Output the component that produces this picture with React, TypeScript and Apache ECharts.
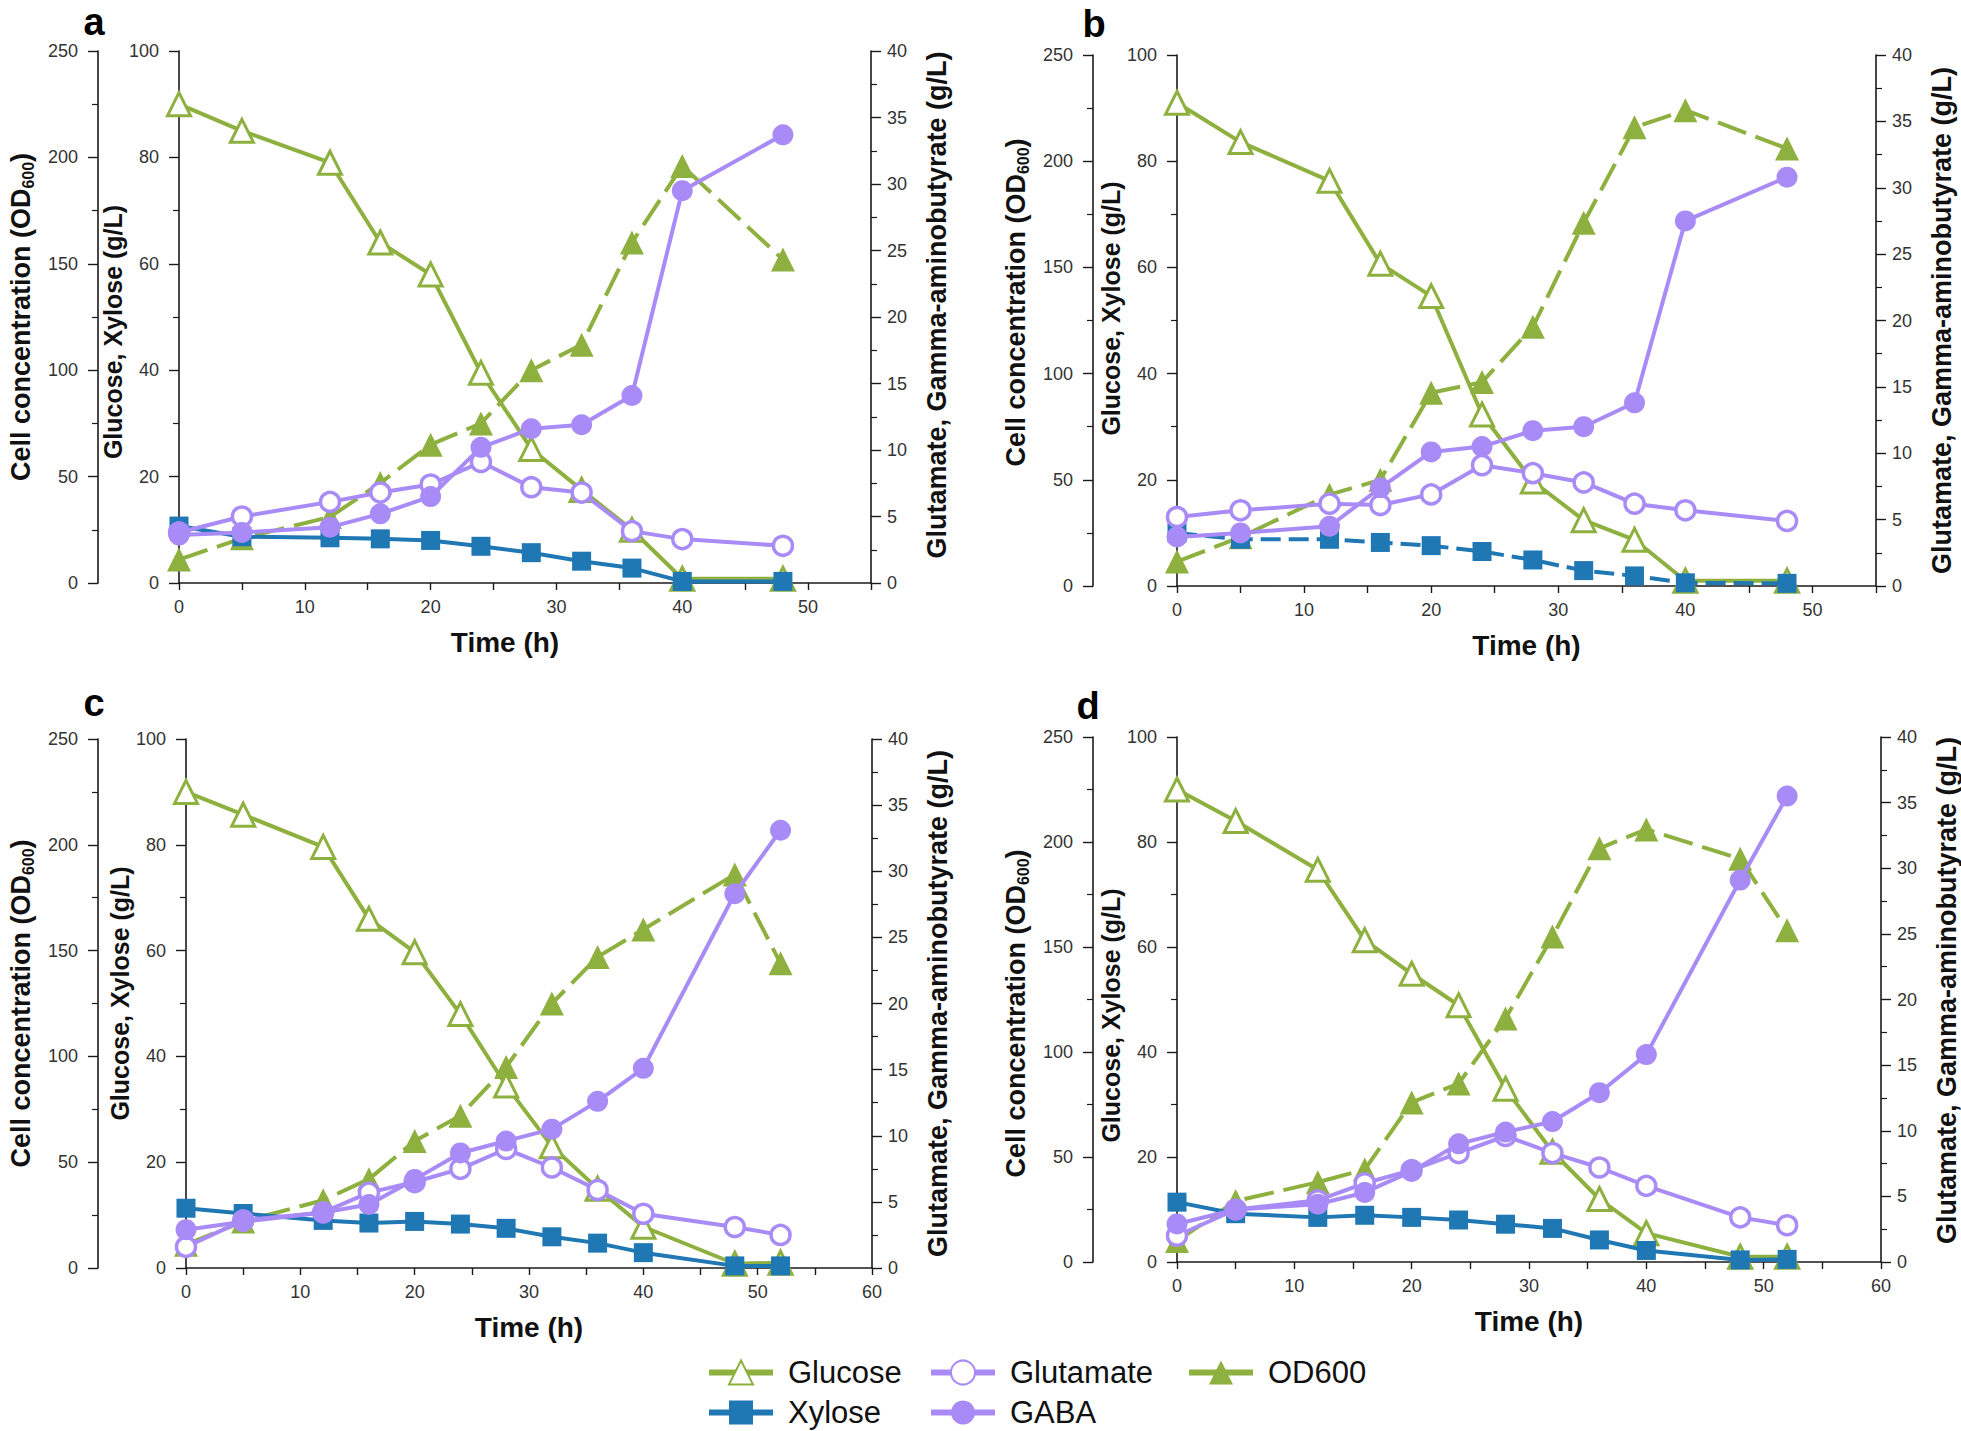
import React, { useEffect, useRef } from 'react';
import * as echarts from 'echarts';

// ---------- data ----------
const timesAB = [0, 5, 12, 16, 20, 24, 28, 32, 36, 40, 48];
const timesCD = [0, 5, 12, 16, 20, 24, 28, 32, 36, 40, 48, 52];

const glucoseA = [90, 85, 79, 64, 58, 39.5, 25.2, 17.5, 10, 0.8, 0.8];
const xyloseA = [10.7, 8.7, 8.5, 8.3, 8.0, 6.9, 5.7, 4.1, 2.8, 0.3, 0.3];
const glutamateA = [3.8, 5.0, 6.1, 6.8, 7.4, 9.1, 7.2, 6.8, 3.9, 3.3, 2.8];
const gabaA = [3.6, 3.8, 4.2, 5.2, 6.5, 10.2, 11.6, 11.9, 14.1, 29.5, 33.7];
const odA = [11, 21, 31, 47, 65, 75, 100, 112, 160, 196, 152];

const glucoseB = [91, 83.6, 76.3, 60.7, 54.6, 32.3, 19.7, 12.4, 8.7, 1, 1];
const xyloseB = [10, 8.8, 8.8, 8.2, 7.6, 6.5, 4.9, 2.9, 1.9, 0.6, 0.5];
const glutamateB = [5.2, 5.7, 6.2, 6.1, 6.9, 9.1, 8.5, 7.8, 6.2, 5.7, 4.9];
const gabaB = [3.7, 4.0, 4.5, 7.4, 10.1, 10.5, 11.7, 12.0, 13.8, 27.5, 30.8];
const odB = [11.5, 23, 43, 50, 91, 96, 122, 171, 216, 224, 206];

const glucoseC = [90, 85.7, 79.6, 66, 59.7, 48, 34.5, 23, 15, 7.8, 0.8, 1];
const xyloseC = [11.3, 10.3, 9.0, 8.5, 8.8, 8.3, 7.5, 5.9, 4.7, 2.9, 0.4, 0.4];
const glutamateC = [1.6, 3.6, 4.2, 5.7, 6.5, 7.5, 9.0, 7.6, 5.9, 4.1, 3.1, 2.5];
const gabaC = [2.9, 3.5, 4.2, 4.8, 6.7, 8.7, 9.6, 10.5, 12.6, 15.1, 28.3, 33.1];
const odC = [11, 22, 32, 42, 60, 72, 95, 125, 147, 160, 186, 144];

const glucoseD = [90, 84, 74.7, 61.3, 54.9, 48.9, 33, 21, 12, 5.5, 1, 1];
const xyloseD = [11.4, 9.2, 8.5, 8.9, 8.5, 8.0, 7.2, 6.4, 4.2, 2.2, 0.4, 0.5];
const glutamateD = [2.0, 4.0, 4.7, 6.0, 7.0, 8.3, 9.6, 8.3, 7.2, 5.8, 3.4, 2.8];
const gabaD = [2.9, 4.0, 4.4, 5.3, 6.9, 9.0, 9.9, 10.7, 12.9, 15.8, 29.1, 35.5];
const odD = [10, 29, 38, 44, 76, 85, 116, 155, 197, 206, 192, 158];

const panelLetters = ['a', 'b', 'c', 'd'];
const xMaxes = [55, 55, 60, 60];
const xTitle = 'Time (h)';
const cellTitle = 'Cell concentration (OD{sub|600})';
const sugarTitle = 'Glucose, Xylose (g/L)';
const rightTitle = 'Glutamate, Gamma-aminobutyrate (g/L)';

const panelData = [
  { times: timesAB, glucose: glucoseA, xylose: xyloseA, glutamate: glutamateA, gaba: gabaA, od: odA, xyloseDashed: false },
  { times: timesAB, glucose: glucoseB, xylose: xyloseB, glutamate: glutamateB, gaba: gabaB, od: odB, xyloseDashed: true },
  { times: timesCD, glucose: glucoseC, xylose: xyloseC, glutamate: glutamateC, gaba: gabaC, od: odC, xyloseDashed: false },
  { times: timesCD, glucose: glucoseD, xylose: xyloseD, glutamate: glutamateD, gaba: gabaD, od: odD, xyloseDashed: false },
];

// ---------- layout / style ----------
const GREEN = '#8DB03F';
const BLUE = '#1F77B4';
const PURPLE = '#A98BF7';
const FONT = "'Liberation Sans', Arial, sans-serif";
const AXIS_COLOR = '#1a1a1a';

// [left, top, right, bottom] of plotting area in px
const boxes = [
  [179, 51, 871, 583],
  [1177, 55, 1876, 586],
  [186, 739, 872, 1268],
  [1177, 737, 1881, 1262],
];
const cellAxisX = [98, 1093, 98, 1093];
const letterPos = [
  [94, 22],
  [1094, 24],
  [94, 703],
  [1088, 706],
];
const timeShift = [-20, 0, 0, 0];
// vertical shift (px, + = down) of the rotated axis titles relative to axis middle
const cellShift = [0, -18, 0, 14];
const sugarShift = [15, -12, -10, 16];
const rightShift = [-12, 0, 0, -9];

const legendLayout = [
  { name: 'Glucose', left: 706, top: 1357 },
  { name: 'Xylose', left: 706, top: 1397 },
  { name: 'Glutamate', left: 928, top: 1357 },
  { name: 'GABA', left: 928, top: 1397 },
  { name: 'OD600', left: 1186, top: 1357 },
];

const pairs = (t: number[], v: number[]) => t.map((x, i) => [x, v[i]]);
const shiftPad = (s: number) => (s > 0 ? [0, 2 * s, 0, 0] : s < 0 ? [0, 0, 0, -2 * s] : [0, 0, 0, 0]);

function buildOption() {
  const grid: any[] = [];
  const xAxis: any[] = [];
  const yAxis: any[] = [];
  const series: any[] = [];
  const graphic: any[] = [];

  const axisLine = { show: true, onZero: false, lineStyle: { color: AXIS_COLOR, width: 1.6 } };
  const labelStyle = { fontFamily: FONT, fontSize: 18, color: '#333' };
  const tick = { show: true, length: 10, lineStyle: { color: AXIS_COLOR, width: 1.4 } };
  const minor = { show: true, splitNumber: 2, length: 6, lineStyle: { color: AXIS_COLOR, width: 1.2 } };

  panelData.forEach((p, i) => {
    const [l, t, r, b] = boxes[i];
    grid.push({ left: l, top: t, width: r - l, height: b - t, containLabel: false });

    xAxis.push({
      gridIndex: i,
      type: 'value',
      min: 0,
      max: xMaxes[i],
      interval: 5,
      axisLine,
      axisTick: { show: true, length: 7, lineStyle: { color: AXIS_COLOR, width: 1.4 } },
      splitLine: { show: false },
      axisLabel: {
        ...labelStyle,
        margin: 15,
        formatter: (v: number) => (v % 10 === 0 ? String(v) : ''),
      },
      name: xTitle,
      nameLocation: 'middle',
      nameGap: 45,
      nameTextStyle: {
        fontFamily: FONT,
        fontSize: 28,
        fontWeight: 'bold',
        color: '#111',
        padding: timeShift[i] < 0 ? [0, -2 * timeShift[i], 0, 0] : 0,
      },
    });

    // sugar axis (inner left)
    yAxis.push({
      gridIndex: i,
      type: 'value',
      position: 'left',
      min: 0,
      max: 100,
      interval: 20,
      axisLine,
      axisTick: tick,
      minorTick: minor,
      splitLine: { show: false },
      axisLabel: { ...labelStyle, margin: 20 },
      name: sugarTitle,
      nameLocation: 'middle',
      nameRotate: 90,
      nameGap: 40,
      nameTextStyle: {
        fontFamily: FONT, fontSize: 25, fontWeight: 'bold', color: '#111',
        padding: shiftPad(sugarShift[i]),
      },
    });
    // cell axis (outer left)
    yAxis.push({
      gridIndex: i,
      type: 'value',
      position: 'left',
      offset: l - cellAxisX[i],
      min: 0,
      max: 250,
      interval: 50,
      axisLine,
      axisTick: tick,
      minorTick: minor,
      splitLine: { show: false },
      axisLabel: { ...labelStyle, margin: 20 },
      name: cellTitle,
      nameLocation: 'middle',
      nameRotate: 90,
      nameGap: 62,
      nameTextStyle: {
        fontFamily: FONT, fontSize: 27, fontWeight: 'bold', color: '#111', lineHeight: 30,
        padding: shiftPad(cellShift[i]),
        rich: {
          sub: { fontFamily: FONT, fontSize: 16, fontWeight: 'bold', color: '#111', verticalAlign: 'bottom', lineHeight: 30 },
        },
      },
    });
    // right axis
    yAxis.push({
      gridIndex: i,
      type: 'value',
      position: 'right',
      min: 0,
      max: 40,
      interval: 5,
      axisLine,
      axisTick: tick,
      minorTick: minor,
      splitLine: { show: false },
      axisLabel: { ...labelStyle, margin: 16 },
      name: rightTitle,
      nameLocation: 'middle',
      nameRotate: 90,
      nameGap: 52,
      nameTextStyle: {
        fontFamily: FONT, fontSize: 27, fontWeight: 'bold', color: '#111',
        padding: shiftPad(rightShift[i]),
      },
    });

    const ySugar = i * 3;
    const yCell = i * 3 + 1;
    const yRight = i * 3 + 2;
    const common = { type: 'line', xAxisIndex: i, clip: false, showAllSymbol: true, animation: false };

    series.push({
      ...common,
      name: 'OD600',
      yAxisIndex: yCell,
      data: pairs(p.times, p.od),
      symbol: 'triangle',
      symbolSize: 24,
      itemStyle: { color: GREEN },
      lineStyle: { color: GREEN, width: 4, type: [30, 10] },
      z: 2,
    });
    series.push({
      ...common,
      name: 'Glucose',
      yAxisIndex: ySugar,
      data: pairs(p.times, p.glucose),
      symbol: 'triangle',
      symbolSize: 23,
      itemStyle: { color: '#fff', borderColor: GREEN, borderWidth: 3 },
      lineStyle: { color: GREEN, width: 4 },
      z: 3,
    });
    series.push({
      ...common,
      name: 'Xylose',
      yAxisIndex: ySugar,
      data: pairs(p.times, p.xylose),
      symbol: 'rect',
      symbolSize: 19,
      itemStyle: { color: BLUE },
      lineStyle: { color: BLUE, width: 4, type: p.xyloseDashed ? [20, 8] : 'solid' },
      z: 4,
    });
    series.push({
      ...common,
      name: 'Glutamate',
      yAxisIndex: yRight,
      data: pairs(p.times, p.glutamate),
      symbol: 'circle',
      symbolSize: 19,
      itemStyle: { color: '#fff', borderColor: PURPLE, borderWidth: 3.5 },
      lineStyle: { color: PURPLE, width: 4 },
      z: 5,
    });
    series.push({
      ...common,
      name: 'GABA',
      yAxisIndex: yRight,
      data: pairs(p.times, p.gaba),
      symbol: 'circle',
      symbolSize: 21,
      itemStyle: { color: PURPLE },
      lineStyle: { color: PURPLE, width: 4 },
      z: 6,
    });

    graphic.push({
      type: 'text',
      x: letterPos[i][0],
      y: letterPos[i][1],
      style: {
        text: panelLetters[i],
        fontFamily: FONT,
        fontSize: 38,
        fontWeight: 'bold',
        fill: '#000',
        align: 'center',
        verticalAlign: 'middle',
      },
    });
  });

  const legend = legendLayout.map((lg) => ({
    data: [lg.name],
    left: lg.left,
    top: lg.top,
    orient: 'horizontal',
    itemWidth: 64,
    itemHeight: 30,
    selectedMode: false,
    padding: 0,
    lineStyle: { type: 'solid', width: 6 },
    textStyle: { fontFamily: FONT, fontSize: 31, color: '#111', padding: [0, 0, 0, 10] },
  }));

  return {
    animation: false,
    backgroundColor: '#ffffff',
    grid,
    xAxis,
    yAxis,
    series,
    legend,
    graphic,
  };
}

export default function App() {
  const ref = useRef<HTMLDivElement>(null);
  useEffect(() => {
    if (!ref.current) return;
    const chart = echarts.init(ref.current, undefined, { renderer: 'svg' });
    chart.setOption(buildOption() as any);
    return () => chart.dispose();
  }, []);
  return (
    <div
      ref={ref}
      style={{ position: 'absolute', left: 0, top: 0, width: 1961, height: 1431, background: '#fff' }}
    />
  );
}
